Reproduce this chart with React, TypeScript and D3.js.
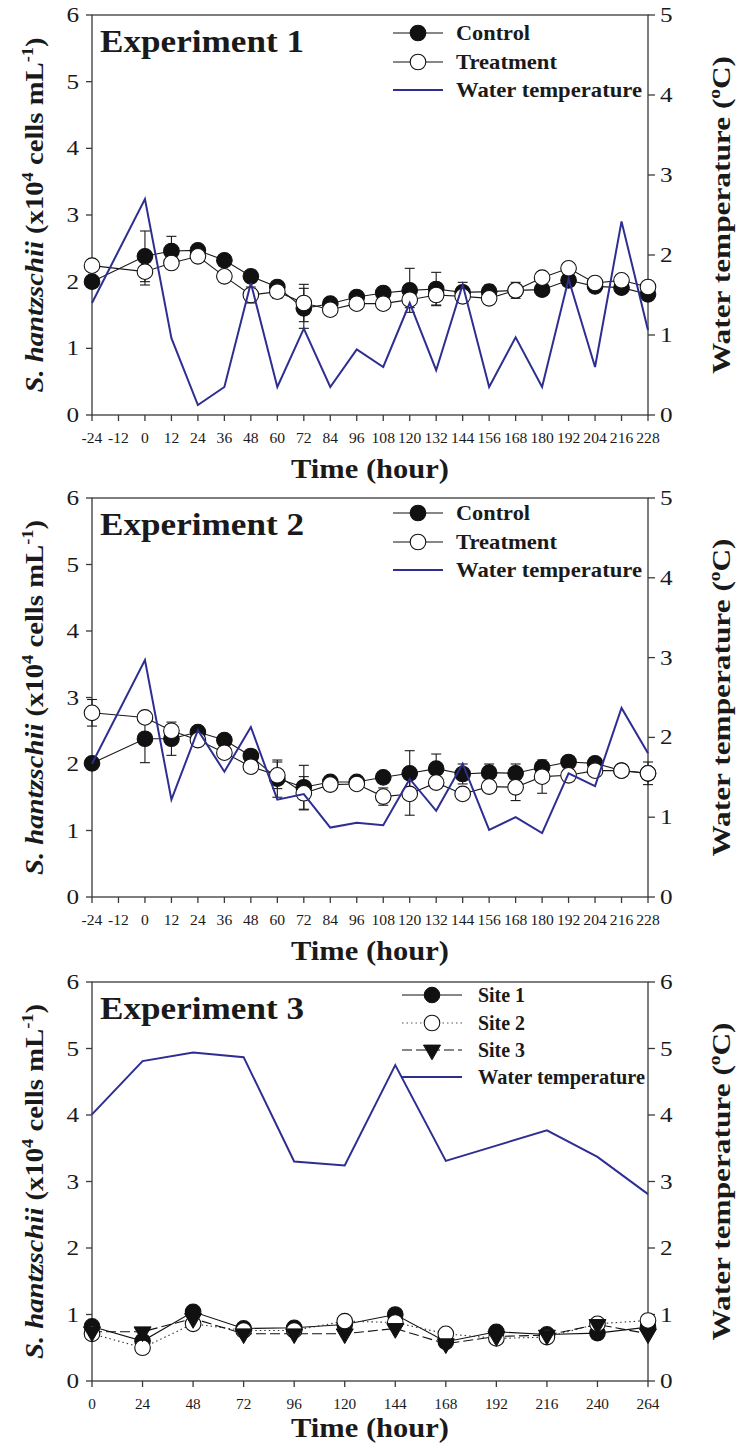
import React from 'react';
import * as d3 from 'd3';

// ---------- Data ----------
const exp1Hours = [-24, 0, 12, 24, 36, 48, 60, 72, 84, 96, 108, 120, 132, 144, 156, 168, 180, 192, 204, 216, 228];
const exp1Control = [2.0, 2.38, 2.46, 2.47, 2.32, 2.08, 1.92, 1.6, 1.67, 1.77, 1.83, 1.87, 1.89, 1.84, 1.85, 1.87, 1.88, 2.02, 1.93, 1.91, 1.81];
const exp1ControlErr = [0.05, 0.38, 0.22, 0.05, 0.05, 0.05, 0.06, 0.3, 0.05, 0.06, 0.06, 0.33, 0.25, 0.15, 0.1, 0.08, 0.05, 0.06, 0.05, 0.05, 0.05];
const exp1Treatment = [2.24, 2.15, 2.28, 2.38, 2.08, 1.8, 1.85, 1.68, 1.58, 1.67, 1.67, 1.73, 1.8, 1.78, 1.75, 1.87, 2.06, 2.2, 1.98, 2.02, 1.92];
const exp1TreatmentErr = [0.05, 0.2, 0.05, 0.05, 0.05, 0.12, 0.1, 0.28, 0.05, 0.05, 0.05, 0.12, 0.15, 0.08, 0.05, 0.12, 0.05, 0.05, 0.05, 0.05, 0.05];
const exp1Temp = [1.4, 2.7, 0.96, 0.125, 0.35, 1.65, 0.35, 1.08, 0.35, 0.82, 0.6, 1.4, 0.56, 1.63, 0.35, 0.97, 0.35, 1.7, 0.6, 2.42, 1.06];

const exp2Hours = [-24, 0, 12, 24, 36, 48, 60, 72, 84, 96, 108, 120, 132, 144, 156, 168, 180, 192, 204, 216, 228];
const exp2Control = [2.01, 2.38, 2.38, 2.48, 2.36, 2.12, 1.78, 1.65, 1.73, 1.73, 1.8, 1.86, 1.93, 1.85, 1.87, 1.86, 1.95, 2.03, 2.01, 1.9, 1.86];
const exp2ControlErr = [0.05, 0.36, 0.25, 0.05, 0.05, 0.05, 0.28, 0.33, 0.05, 0.05, 0.05, 0.34, 0.22, 0.15, 0.13, 0.14, 0.05, 0.05, 0.05, 0.05, 0.17];
const exp2Treatment = [2.77, 2.7, 2.5, 2.36, 2.17, 1.96, 1.83, 1.56, 1.69, 1.7, 1.51, 1.55, 1.72, 1.55, 1.66, 1.65, 1.81, 1.83, 1.9, 1.9, 1.86];
const exp2TreatmentErr = [0.2, 0.05, 0.05, 0.05, 0.05, 0.05, 0.2, 0.25, 0.05, 0.05, 0.13, 0.32, 0.05, 0.05, 0.05, 0.2, 0.25, 0.05, 0.05, 0.05, 0.05];
const exp2Temp = [1.67, 2.97, 1.22, 2.09, 1.57, 2.13, 1.22, 1.29, 0.87, 0.93, 0.9, 1.48, 1.08, 1.67, 0.84, 1.0, 0.8, 1.55, 1.39, 2.37, 1.8];

const exp3Hours = [0, 24, 48, 72, 96, 120, 144, 168, 192, 216, 240, 264];
const exp3Site1 = [0.82, 0.6, 1.04, 0.79, 0.8, 0.85, 1.0, 0.59, 0.74, 0.7, 0.72, 0.81];
const exp3Site2 = [0.71, 0.5, 0.86, 0.76, 0.76, 0.9, 0.88, 0.71, 0.64, 0.66, 0.86, 0.91];
const exp3Site3 = [0.74, 0.74, 0.94, 0.71, 0.71, 0.71, 0.79, 0.56, 0.67, 0.69, 0.85, 0.71];
const exp3Temp = [4.01, 4.81, 4.94, 4.87, 3.3, 3.24, 4.75, 3.31, 3.54, 3.77, 3.37, 2.81];

const xTicks12 = [-24, -12, 0, 12, 24, 36, 48, 60, 72, 84, 96, 108, 120, 132, 144, 156, 168, 180, 192, 204, 216, 228];
const xTicks24 = [0, 24, 48, 72, 96, 120, 144, 168, 192, 216, 240, 264];
const leftTicks = [0, 1, 2, 3, 4, 5, 6];
const rightTicks5 = [0, 1, 2, 3, 4, 5];
const rightTicks6 = [0, 1, 2, 3, 4, 5, 6];

const legend12 = ['Control', 'Treatment', 'Water temperature'];
const legend3 = ['Site 1', 'Site 2', 'Site 3', 'Water temperature'];
const titles = ['Experiment 1', 'Experiment 2', 'Experiment 3'];

// ---------- Style ----------
const FONT = "'Liberation Serif', 'Times New Roman', Times, serif";
const AXIS = '#3a3a3a';
const BLUE = '#2e2e92';
const L = 92;
const R = 648;
const fs = { fontFamily: FONT };
const legend12Len = [74, 101, 186];
const legend3Len = [47, 47, 47, 167];

function ScaledText({ x, y, sx = 1, anchor = 'start', size, weight = 'normal', children }: any) {
  return (
    <text transform={`translate(${x},${y}) scale(${sx},1)`} textAnchor={anchor} fontSize={size} fontWeight={weight} style={fs} fill="#1a1a1a">
      {children}
    </text>
  );
}

function Frame({ top, bottom, x, yL, yR, xTicks, rTicks, xsx }: any) {
  return (
    <g>
      <rect x={L} y={top} width={R - L} height={bottom - top} fill="none" stroke={AXIS} strokeWidth={1.3} />
      {xTicks.map((t: number) => (
        <g key={'x' + t}>
          <line x1={x(t)} x2={x(t)} y1={bottom} y2={bottom + 6} stroke={AXIS} strokeWidth={1.3} />
          <ScaledText x={x(t)} y={bottom + 28} sx={xsx} anchor="middle" size={15}>{String(t)}</ScaledText>
        </g>
      ))}
      {leftTicks.map((t) => (
        <g key={'l' + t}>
          <line x1={L - 6} x2={L} y1={yL(t)} y2={yL(t)} stroke={AXIS} strokeWidth={1.3} />
          <ScaledText x={79} y={yL(t) + 7} sx={1.2} anchor="end" size={21}>{String(t)}</ScaledText>
        </g>
      ))}
      {rTicks.map((t: number) => (
        <g key={'r' + t}>
          <line x1={R} x2={R + 7} y1={yR(t)} y2={yR(t)} stroke={AXIS} strokeWidth={1.3} />
          <ScaledText x={660} y={yR(t) + 7} sx={1.2} anchor="start" size={21}>{String(t)}</ScaledText>
        </g>
      ))}
    </g>
  );
}

function Titles({ top, bottom, title, timeOffset }: any) {
  const cy = (top + bottom) / 2;
  return (
    <g style={fs} fill="#1a1a1a" fontWeight="bold">
      <text x={100} y={top + 37} fontSize={31} textLength={204} lengthAdjust="spacingAndGlyphs" style={fs}>{title}</text>
      <text x={370} y={bottom + timeOffset} fontSize={28} textAnchor="middle" textLength={158} lengthAdjust="spacingAndGlyphs" style={fs}>Time (hour)</text>
      <text transform={`translate(43,${cy}) rotate(-90)`} textAnchor="middle" fontSize={25} textLength={355} lengthAdjust="spacingAndGlyphs" style={fs}>
        <tspan fontStyle="italic">S. hantzschii</tspan>
        <tspan>{' (x10'}</tspan>
        <tspan dy={-10} fontSize={16}>4</tspan>
        <tspan dy={10}>{' cells mL'}</tspan>
        <tspan dy={-10} fontSize={16}>-1</tspan>
        <tspan dy={10}>)</tspan>
      </text>
      <text transform={`translate(730,${cy}) rotate(-90)`} textAnchor="middle" fontSize={26} textLength={318} lengthAdjust="spacingAndGlyphs" style={fs}>
        <tspan>{'Water temperature ('}</tspan>
        <tspan dy={-10} fontSize={16}>o</tspan>
        <tspan dy={10}>C)</tspan>
      </text>
    </g>
  );
}

function ErrBars({ xs, ys, errs, x, y }: any) {
  return (
    <g stroke="#1a1a1a" strokeWidth={1.1}>
      {xs.map((h: number, i: number) => {
        const cx = x(h);
        const y1 = y(ys[i] + errs[i]);
        const y2 = y(ys[i] - errs[i]);
        return (
          <g key={i}>
            <line x1={cx} x2={cx} y1={y1} y2={y2} />
            <line x1={cx - 5} x2={cx + 5} y1={y1} y2={y1} />
            <line x1={cx - 5} x2={cx + 5} y1={y2} y2={y2} />
          </g>
        );
      })}
    </g>
  );
}

function Panel12({ top, bottom, hours, control, controlErr, treat, treatErr, temp, title, legendRows }: any) {
  const x = d3.scaleLinear().domain([-24, 228]).range([L, R]);
  const yL = d3.scaleLinear().domain([0, 6]).range([bottom, top]);
  const yR = d3.scaleLinear().domain([0, 5]).range([bottom, top]);
  const cPath = d3.line<number>().x((_, i) => x(hours[i])).y((v) => yL(v))(control) as string;
  const tPath = d3.line<number>().x((_, i) => x(hours[i])).y((v) => yL(v))(treat) as string;
  const wPath = d3.line<number>().x((_, i) => x(hours[i])).y((v) => yR(v))(temp) as string;
  return (
    <g>
      <Frame top={top} bottom={bottom} x={x} yL={yL} yR={yR} xTicks={xTicks12} rTicks={rightTicks5} xsx={1.04} />
      <ErrBars xs={hours} ys={control} errs={controlErr} x={x} y={yL} />
      <ErrBars xs={hours} ys={treat} errs={treatErr} x={x} y={yL} />
      <path d={cPath} fill="none" stroke="#1a1a1a" strokeWidth={1.1} />
      <path d={tPath} fill="none" stroke="#1a1a1a" strokeWidth={1.1} />
      {hours.map((h: number, i: number) => (
        <circle key={'c' + i} cx={x(h)} cy={yL(control[i])} r={7.8} fill="#111" stroke="#111" strokeWidth={1.1} />
      ))}
      {hours.map((h: number, i: number) => (
        <circle key={'t' + i} cx={x(h)} cy={yL(treat[i])} r={7.8} fill="#fff" stroke="#111" strokeWidth={1.1} />
      ))}
      <path d={wPath} fill="none" stroke={BLUE} strokeWidth={2} />
      {legend12.map((lab, i) => {
        const cy = top + legendRows[i];
        return (
          <g key={lab}>
            <line x1={393} x2={443} y1={cy} y2={cy} stroke={i === 2 ? BLUE : '#111'} strokeWidth={i === 2 ? 2 : 1.1} />
            {i < 2 && <circle cx={418} cy={cy} r={7.8} fill={i === 0 ? '#111' : '#fff'} stroke="#111" strokeWidth={1.1} />}
            <text x={456} y={cy + 7} style={fs} fontWeight="bold" fontSize={21} fill="#1a1a1a"
              textLength={legend12Len[i]} lengthAdjust="spacingAndGlyphs">{lab}</text>
          </g>
        );
      })}
      <Titles top={top} bottom={bottom} title={title} timeOffset={63} />
    </g>
  );
}

function Panel3({ top, bottom }: any) {
  const x = d3.scaleLinear().domain([0, 264]).range([L, R]);
  const yL = d3.scaleLinear().domain([0, 6]).range([bottom, top]);
  const yR = d3.scaleLinear().domain([0, 6]).range([bottom, top]);
  const mk = (arr: number[], y: any) => d3.line<number>().x((_, i) => x(exp3Hours[i])).y((v) => y(v))(arr) as string;
  const tri = d3.symbol().type(d3.symbolTriangle).size(125)() as string;
  const legendRows = [13, 41, 68, 95];
  const dashes = [undefined, '1.5,3', '10,4'];
  return (
    <g>
      <Frame top={top} bottom={bottom} x={x} yL={yL} yR={yR} xTicks={xTicks24} rTicks={rightTicks6} xsx={1.02} />
      <path d={mk(exp3Site1, yL)} fill="none" stroke="#111" strokeWidth={1.1} />
      <path d={mk(exp3Site2, yL)} fill="none" stroke="#333" strokeWidth={1.1} strokeDasharray={dashes[1]} />
      <path d={mk(exp3Site3, yL)} fill="none" stroke="#111" strokeWidth={1.1} strokeDasharray={dashes[2]} />
      {exp3Hours.map((h, i) => (
        <circle key={'s1' + i} cx={x(h)} cy={yL(exp3Site1[i])} r={7.8} fill="#111" stroke="#111" strokeWidth={1.1} />
      ))}
      {exp3Hours.map((h, i) => (
        <circle key={'s2' + i} cx={x(h)} cy={yL(exp3Site2[i])} r={7.8} fill="#fff" stroke="#111" strokeWidth={1.1} />
      ))}
      {exp3Hours.map((h, i) => (
        <path key={'s3' + i} d={tri} transform={`translate(${x(h)},${yL(exp3Site3[i])}) rotate(180)`} fill="#111" stroke="#111" strokeWidth={1} />
      ))}
      <path d={mk(exp3Temp, yR)} fill="none" stroke={BLUE} strokeWidth={2} />
      {legend3.map((lab, i) => {
        const cy = top + legendRows[i];
        return (
          <g key={lab}>
            {i === 3 ? (
              <line x1={402} x2={462} y1={cy} y2={cy} stroke={BLUE} strokeWidth={2} />
            ) : (
              <line x1={402} x2={462} y1={cy} y2={cy} stroke={i === 1 ? '#555' : '#111'} strokeWidth={1.1} strokeDasharray={dashes[i]} />
            )}
            {i === 0 && <circle cx={432} cy={cy} r={7.8} fill="#111" stroke="#111" />}
            {i === 1 && <circle cx={432} cy={cy} r={7.8} fill="#fff" stroke="#111" strokeWidth={1.1} />}
            {i === 2 && <path d={tri} transform={`translate(432,${cy}) rotate(180)`} fill="#111" stroke="#111" />}
            <text x={478} y={cy + 7} style={fs} fontWeight="bold" fontSize={20} fill="#1a1a1a"
              textLength={legend3Len[i]} lengthAdjust="spacingAndGlyphs">{lab}</text>
          </g>
        );
      })}
      <Titles top={top} bottom={bottom} title={titles[2]} timeOffset={56} />
    </g>
  );
}

export default function App() {
  return (
    <svg width={738} height={1448} style={{ position: 'absolute', left: 0, top: 0, background: '#fff', fontFamily: FONT }}>
      <rect x={0} y={0} width={738} height={1448} fill="#fff" />
      <Panel12 top={15} bottom={415} hours={exp1Hours} control={exp1Control} controlErr={exp1ControlErr}
        treat={exp1Treatment} treatErr={exp1TreatmentErr} temp={exp1Temp} title={titles[0]} legendRows={[18, 47, 75]} />
      <Panel12 top={498} bottom={897} hours={exp2Hours} control={exp2Control} controlErr={exp2ControlErr}
        treat={exp2Treatment} treatErr={exp2TreatmentErr} temp={exp2Temp} title={titles[1]} legendRows={[15, 44, 72]} />
      <Panel3 top={982} bottom={1381} />
    </svg>
  );
}
